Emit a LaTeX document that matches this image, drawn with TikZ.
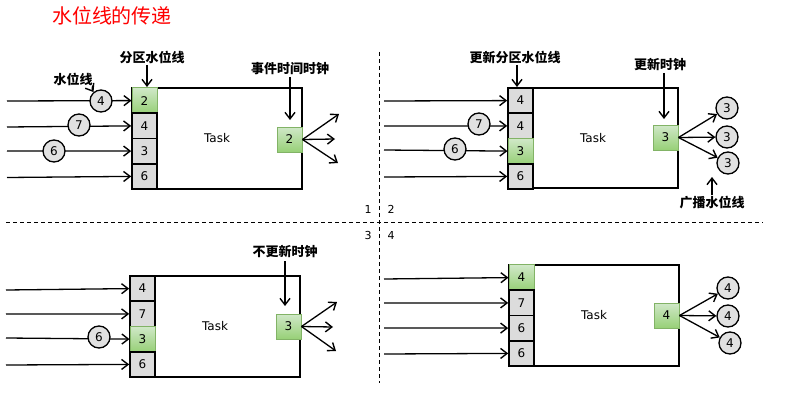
\documentclass[tikz,border=0pt]{standalone}
\usepackage{fontspec}
\setmainfont{DejaVu Sans}
\newfontfamily\cjk{Noto Sans CJK SC}
\usetikzlibrary{arrows.meta}
\definecolor{cellgray}{RGB}{220,220,220}
\definecolor{wmgray}{RGB}{225,225,225}
\definecolor{gtop}{RGB}{208,232,200}
\definecolor{gbot}{RGB}{151,208,119}
\definecolor{gborder}{RGB}{130,179,102}
\definecolor{titlered}{RGB}{255,0,0}
\tikzset{
  taskbox/.style={draw=black, line width=2.2pt, rectangle, minimum width=170pt, font=\fontsize{12}{14}\selectfont, inner sep=0pt},
  cellbox/.style={rectangle, minimum width=25pt, minimum height=25.25pt, inner sep=0pt, font=\fontsize{12}{14}\selectfont},
  cellg/.style={cellbox, draw=black, line width=1.6pt, fill=cellgray},
  cellgreen/.style={cellbox, draw=gborder, line width=1pt, top color=gtop, bottom color=gbot},
  outcell/.style={cellgreen, minimum height=25pt},
  wm/.style={circle, draw=black, line width=1.3pt, fill=wmgray, minimum size=22pt, inner sep=0pt, font=\fontsize{12}{14}\selectfont},
  arr/.style={line width=1.3pt, -{Straight Barb[length=6.5pt,width=10pt,line width=1.4pt]}},
  lbl/.style={font=\cjk\bfseries\fontsize{13}{15}\selectfont, inner sep=0pt},
  qlbl/.style={font=\fontsize{11}{13}\selectfont, inner sep=0pt},
  sep/.style={line width=0.9pt, dash pattern=on 4pt off 3pt}
}
\begin{document}
\begin{tikzpicture}[x=1pt,y=-1pt]
\useasboundingbox (0,0) rectangle (793,412);
% title
\node[font=\cjk\fontsize{20}{22}\selectfont, text=titlered, inner sep=0pt] (title) at (112,16) {水位线的传递};
% separators
\coordinate (vt) at (379,52); \coordinate (vb) at (379,383);
\coordinate (hl) at (6,222); \coordinate (hr) at (763,222);
\draw[sep] (vt) -- (vb);
\draw[sep] (hl) -- (hr);
\node[qlbl] (q1) at (368,209) {1};
\node[qlbl] (q2) at (391,209) {2};
\node[qlbl] (q3) at (368,235) {3};
\node[qlbl] (q4) at (391,235) {4};

% ================= panel 1 =================
\node[taskbox, minimum height=101pt] (t1) at (217,138.5) {Task};
\node[cellgreen] (c11) at (144.5,100.6) {2};
\node[cellg] (c12) at (144.5,125.9) {4};
\node[cellg] (c13) at (144.5,151.1) {3};
\node[cellg] (c14) at (144.5,176.4) {6};
\coordinate (s11) at (7,101); \coordinate (s12) at (7,127);
\coordinate (s13) at (7,151); \coordinate (s14) at (7,177.5);
\draw[arr] (s11) -- (c11.west);
\draw[arr] (s12) -- (c12.west);
\draw[arr] (s13) -- (c13.west);
\draw[arr] (s14) -- (c14.west);
\node[wm] (w11) at (101,101) {4};
\node[wm] (w12) at (79,125) {7};
\node[wm] (w13) at (54,151) {6};
\node[lbl] (l11) at (73,79) {水位线};
\draw[arr] (l11.south east) to[bend right=25] (w11.130);
\node[lbl] (l12) at (152,57) {分区水位线};
\coordinate (a12) at (147,65); \coordinate (b12) at (147,87);
\draw[arr] (a12) -- (b12);
\node[outcell] (o1) at (289.5,139.5) {2};
\node[lbl] (l13) at (290,69) {事件时间时钟};
\coordinate (a13) at (290,77); \coordinate (b13) at (290,120);
\draw[arr] (a13) -- (b13);
\coordinate (e11) at (339,114); \coordinate (e12) at (335,139); \coordinate (e13) at (338,163);
\draw[arr] (o1.east) -- (e11);
\draw[arr] (o1.east) -- (e12);
\draw[arr] (o1.east) -- (e13);

% ================= panel 2 =================
\node[taskbox, minimum height=100pt] (t2) at (593,138) {Task};
\node[cellg] (c21) at (520.5,100.6) {4};
\node[cellg] (c22) at (520.5,125.9) {4};
\node[cellgreen] (c23) at (520.5,151.1) {3};
\node[cellg] (c24) at (520.5,176.4) {6};
\coordinate (s21) at (384,101); \coordinate (s22) at (384,126);
\coordinate (s23) at (384,150); \coordinate (s24) at (384,177);
\draw[arr] (s21) -- (c21.west);
\draw[arr] (s22) -- (c22.west);
\draw[arr] (s23) -- (c23.west);
\draw[arr] (s24) -- (c24.west);
\node[wm] (w22) at (479,124) {7};
\node[wm] (w23) at (455,149) {6};
\node[lbl] (l21) at (515,57) {更新分区水位线};
\coordinate (a21) at (517,65); \coordinate (b21) at (517,87);
\draw[arr] (a21) -- (b21);
\node[outcell] (o2) at (665.5,137.5) {3};
\node[lbl] (l22) at (660,65) {更新时钟};
\coordinate (a22) at (664,73); \coordinate (b22) at (664,119);
\draw[arr] (a22) -- (b22);
\node[wm] (r21) at (727,108) {3};
\node[wm] (r22) at (727,137) {3};
\node[wm] (r23) at (728,163) {3};
\draw[arr] (o2.east) -- (r21);
\draw[arr] (o2.east) -- (r22);
\draw[arr] (o2.east) -- (r23);
\node[lbl] (l23) at (712,203) {广播水位线};
\coordinate (a23) at (712,195); \coordinate (b23) at (712,177);
\draw[arr] (a23) -- (b23);

% ================= panel 3 =================
\node[taskbox, minimum height=101pt] (t3) at (215,326.5) {Task};
\node[cellg] (c31) at (142.5,288.6) {4};
\node[cellg] (c32) at (142.5,313.9) {7};
\node[cellgreen] (c33) at (142.5,339.1) {3};
\node[cellg] (c34) at (142.5,364.4) {6};
\coordinate (s31) at (6,290); \coordinate (s32) at (6,314);
\coordinate (s33) at (6,338); \coordinate (s34) at (6,365);
\draw[arr] (s31) -- (c31.west);
\draw[arr] (s32) -- (c32.west);
\draw[arr] (s33) -- (c33.west);
\draw[arr] (s34) -- (c34.west);
\node[wm] (w33) at (99,337) {6};
\node[outcell] (o3) at (288.5,326.5) {3};
\node[lbl] (l31) at (285,252) {不更新时钟};
\coordinate (a31) at (285,261); \coordinate (b31) at (285,306);
\draw[arr] (a31) -- (b31);
\coordinate (e31) at (337,302); \coordinate (e32) at (333,327); \coordinate (e33) at (336,351);
\draw[arr] (o3.east) -- (e31);
\draw[arr] (o3.east) -- (e32);
\draw[arr] (o3.east) -- (e33);

% ================= panel 4 =================
\node[taskbox, minimum height=101pt] (t4) at (594,315.5) {Task};
\node[cellgreen] (c41) at (521.5,277.6) {4};
\node[cellg] (c42) at (521.5,302.9) {7};
\node[cellg] (c43) at (521.5,328.1) {6};
\node[cellg] (c44) at (521.5,353.4) {6};
\coordinate (s41) at (384,279); \coordinate (s42) at (384,303);
\coordinate (s43) at (384,328); \coordinate (s44) at (384,354);
\draw[arr] (s41) -- (c41.west);
\draw[arr] (s42) -- (c42.west);
\draw[arr] (s43) -- (c43.west);
\draw[arr] (s44) -- (c44.west);
\node[outcell] (o4) at (666.5,315.5) {4};
\node[wm] (r41) at (728,288) {4};
\node[wm] (r42) at (728,316) {4};
\node[wm] (r43) at (730,343) {4};
\draw[arr] (o4.east) -- (r41);
\draw[arr] (o4.east) -- (r42);
\draw[arr] (o4.east) -- (r43);
\end{tikzpicture}
\end{document}
